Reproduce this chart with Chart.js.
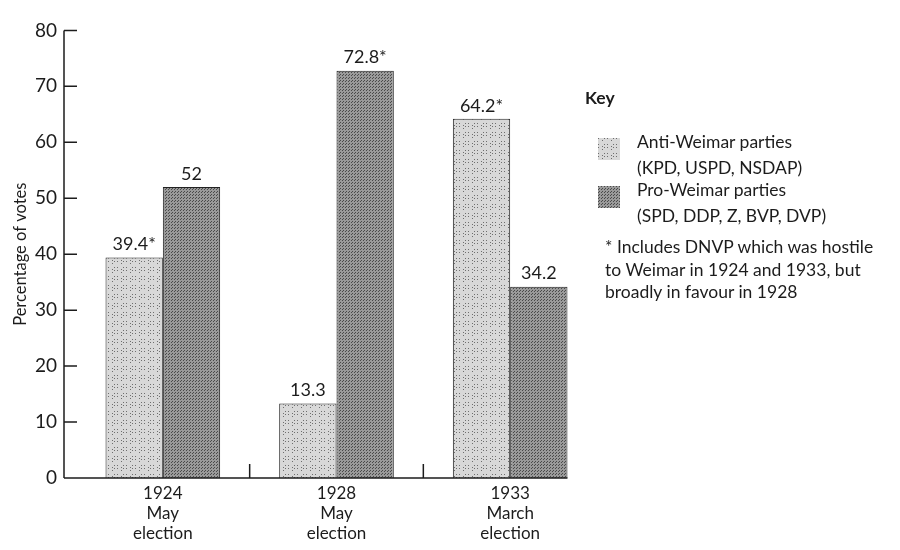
<!DOCTYPE html>
<html>
<head>
<meta charset="utf-8">
<script src="https://cdn.jsdelivr.net/npm/chart.js@4.4.1/dist/chart.umd.min.js"></script>
<style>
  body { margin: 0; background: #fff; }
  #wrap { position: relative; width: 900px; height: 550px; }
  #key { position: absolute; left: 585px; top: 86px; font-family: Lato, sans-serif; color: #1c1c1c; font-size: 17.5px; }
  #key .title { font-weight: bold; font-size: 17.5px; line-height: 24px; margin-bottom: 19px; }
  #key .row { position: relative; padding-left: 52px; height: 48px; line-height: 26px; }
  #key .sw { position: absolute; left: 13px; top: 9px; width: 22px; height: 22px; }
  #key .note { margin-left: 20px; margin-top: 11px; line-height: 22.5px; }
</style>
</head>
<body>
<div id="wrap">
  <canvas id="chart" width="900" height="550"></canvas>
  <div id="key">
    <div class="title">Key</div>
    <div class="row"><span class="sw" id="swAnti"></span>Anti-Weimar parties<br>(KPD, USPD, NSDAP)</div>
    <div class="row"><span class="sw" id="swPro"></span>Pro-Weimar parties<br>(SPD, DDP, Z, BVP, DVP)</div>
    <div class="note">* Includes DNVP which was hostile<br>to Weimar in 1924 and 1933, but<br>broadly in favour in 1928</div>
  </div>
</div>
<script>
const categories = [['1924', 'May', 'election'], ['1928', 'May', 'election'], ['1933', 'March', 'election']];
const antiWeimar = [39.4, 13.3, 64.2];
const proWeimar = [52, 72.8, 34.2];
const antiLabels = ['39.4*', '13.3', '64.2*'];
const proLabels = ['52', '72.8*', '34.2'];
const yMax = 80;
const yStep = 10;

// stippled grey fill, like the printed screen tone
function stipple(base, dot, every) {
  const c = document.createElement('canvas');
  c.width = 9; c.height = 9;
  const g = c.getContext('2d');
  g.fillStyle = base;
  g.fillRect(0, 0, 9, 9);
  g.fillStyle = dot;
  for (let i = 0; i < 9; i++) {
    for (let j = 0; j < 9; j++) {
      if ((i * 5 + j * 7 + i * j) % every === 0) g.fillRect(i, j, 1, 1);
    }
  }
  return c;
}
const antiTile = stipple('#d8d8d8', '#6e6e6e', 6);
const proTile = stipple('#9a9a9a', '#4a4a4a', 3);

const ctx = document.getElementById('chart').getContext('2d');
const antiFill = ctx.createPattern(antiTile, 'repeat');
const proFill = ctx.createPattern(proTile, 'repeat');
document.getElementById('swAnti').style.background = 'url(' + antiTile.toDataURL() + ')';
document.getElementById('swPro').style.background = 'url(' + proTile.toDataURL() + ')';

const ink = '#1c1c1c';
const AXIS_GAP = 12; // y axis sits a little left of the first category

const axesAndLabels = {
  id: 'axesAndLabels',
  afterDatasetsDraw(chart) {
    const c = chart.ctx;
    const x = chart.scales.x, y = chart.scales.y;
    const ax = chart.chartArea.left - AXIS_GAP;
    const base = y.getPixelForValue(0);
    c.save();
    c.strokeStyle = ink;
    c.lineWidth = 1.5;
    // y axis with inward ticks
    c.beginPath();
    c.moveTo(ax, y.getPixelForValue(yMax));
    c.lineTo(ax, base);
    y.ticks.forEach(t => {
      const py = y.getPixelForValue(t.value);
      c.moveTo(ax, py);
      c.lineTo(ax + 13, py);
    });
    // x axis up to the last bar
    const lastBar = chart.getDatasetMeta(1).data[categories.length - 1];
    c.moveTo(ax, base);
    c.lineTo(lastBar.x + lastBar.width / 2, base);
    // separators between groups
    for (let i = 0; i < categories.length - 1; i++) {
      const px = (x.getPixelForTick(i) + x.getPixelForTick(i + 1)) / 2;
      c.moveTo(px, base);
      c.lineTo(px, base - 14);
    }
    c.stroke();
    // value labels
    c.fillStyle = ink;
    c.font = '18px Lato, sans-serif';
    c.textAlign = 'center';
    c.textBaseline = 'bottom';
    [antiLabels, proLabels].forEach((labels, d) => {
      chart.getDatasetMeta(d).data.forEach((bar, i) => {
        c.fillText(labels[i], bar.x, bar.y - 4);
      });
    });
    c.restore();
  }
};

new Chart(ctx, {
  type: 'bar',
  data: {
    labels: categories,
    datasets: [{
      label: 'Anti-Weimar parties (KPD, USPD, NSDAP)',
      data: antiWeimar,
      backgroundColor: antiFill,
      borderColor: '#222',
      borderWidth: 1
    }, {
      label: 'Pro-Weimar parties (SPD, DDP, Z, BVP, DVP)',
      data: proWeimar,
      backgroundColor: proFill,
      borderColor: '#222',
      borderWidth: 1
    }]
  },
  options: {
    responsive: false,
    animation: false,
    layout: { padding: { left: 0, top: 20, right: 303, bottom: 0 } },
    datasets: { bar: { categoryPercentage: 0.66, barPercentage: 1.0 } },
    plugins: { legend: { display: false }, tooltip: { enabled: false } },
    scales: {
      x: {
        grid: { display: false, drawTicks: false },
        border: { display: false },
        ticks: {
          color: ink,
          padding: 5,
          font: { family: 'Lato, sans-serif', size: 17, lineHeight: 1.2 }
        },
        afterFit: function(s) { s.height = 72; }
      },
      y: {
        min: 0,
        max: yMax,
        grid: { display: false, drawTicks: false },
        border: { display: false },
        ticks: {
          stepSize: yStep,
          color: ink,
          padding: 19,
          font: { family: 'Lato, sans-serif', size: 19 }
        },
        title: {
          display: true,
          text: 'Percentage of votes',
          color: ink,
          padding: { top: 11, bottom: 0 },
          font: { family: 'Lato, sans-serif', size: 16.5 }
        },
        afterFit: function(s) { s.width = 76; }
      }
    }
  },
  plugins: [axesAndLabels]
});
</script>
</body>
</html>
